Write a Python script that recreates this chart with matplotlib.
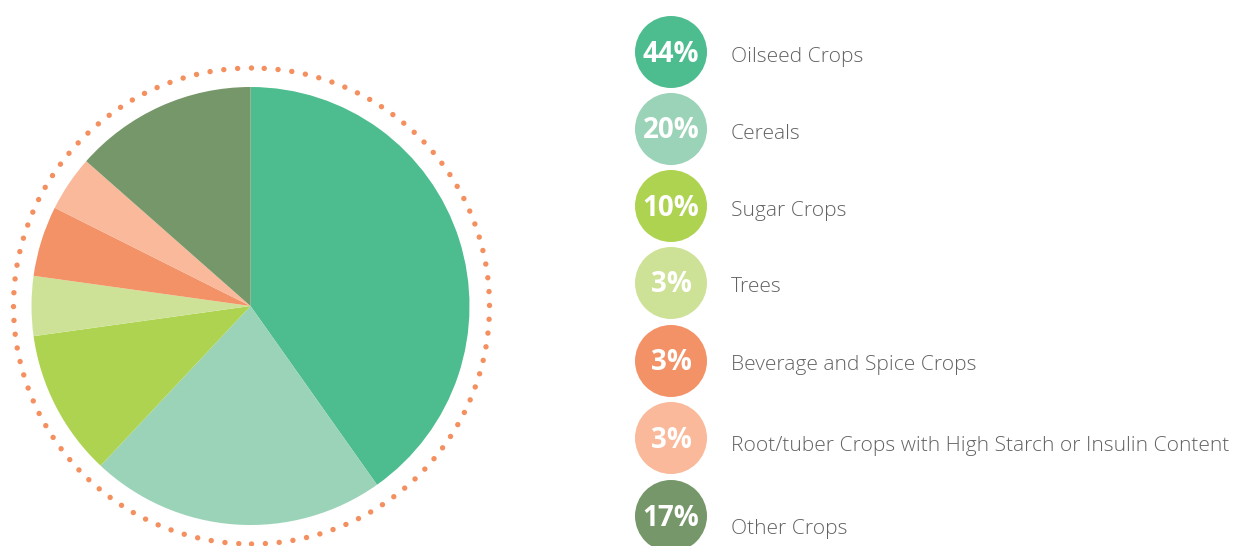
import matplotlib.pyplot as plt
from matplotlib.patches import Circle, Arc

# slice sizes as drawn in the pie (percent of the circle)
crops = ['Oilseed Crops', 'Cereals', 'Sugar Crops', 'Trees',
         'Beverage and Spice Crops',
         'Root/tuber Crops with High Starch or Insulin Content',
         'Other Crops']
slice_values = [40.2, 21.8, 10.8, 4.4, 5.2, 4.1, 13.5]
# percentages printed in the legend badges
badge_labels = ['44%', '20%', '10%', '3%', '3%', '3%', '17%']
colors = ['#4dbd8f', '#9ad3b7', '#aed350', '#cee297',
          '#f49267', '#f9b99a', '#769769']

W, H = 1237, 546
fig = plt.figure(figsize=(W / 100, H / 100), dpi=100)
ax = fig.add_axes([0, 0, 1, 1])

cx, cy, r = 250.5, H - 306, 219
ax.pie(slice_values, colors=colors, startangle=90, counterclock=False,
       center=(cx, cy), radius=r, wedgeprops=dict(linewidth=0))

# dotted ring round the pie, drawn as two halves (top to bottom)
for t1, t2 in [(90, 270), (270, 450)]:
    ring = Arc((cx + 1, cy), 476, 476, theta1=t1, theta2=t2,
               edgecolor='#f4905f', linewidth=3.9,
               linestyle=(0, (0.01, 2.55)))
    ring.set_capstyle('round')
    ax.add_patch(ring)

# legend
row_y = [52, 129, 206, 283, 361, 438, 516]
text_y = [54, 131, 208, 284, 362, 443, 526]
for i in range(len(crops)):
    ax.add_patch(Circle((671, H - row_y[i]), 36, color=colors[i], linewidth=0))
    ax.text(671, H - row_y[i] - 2, badge_labels[i], ha='center', va='center',
            color='white', fontsize=20, fontweight='bold', family='Open Sans')
    ax.text(731, H - text_y[i] - 3, crops[i], ha='left', va='center',
            color='#626262', fontsize=15.1, fontweight='light', family='Open Sans')

ax.set_xlim(0, W)
ax.set_ylim(0, H)
ax.set_aspect('auto')
ax.axis('off')

fig.savefig('out.png', dpi=100)
